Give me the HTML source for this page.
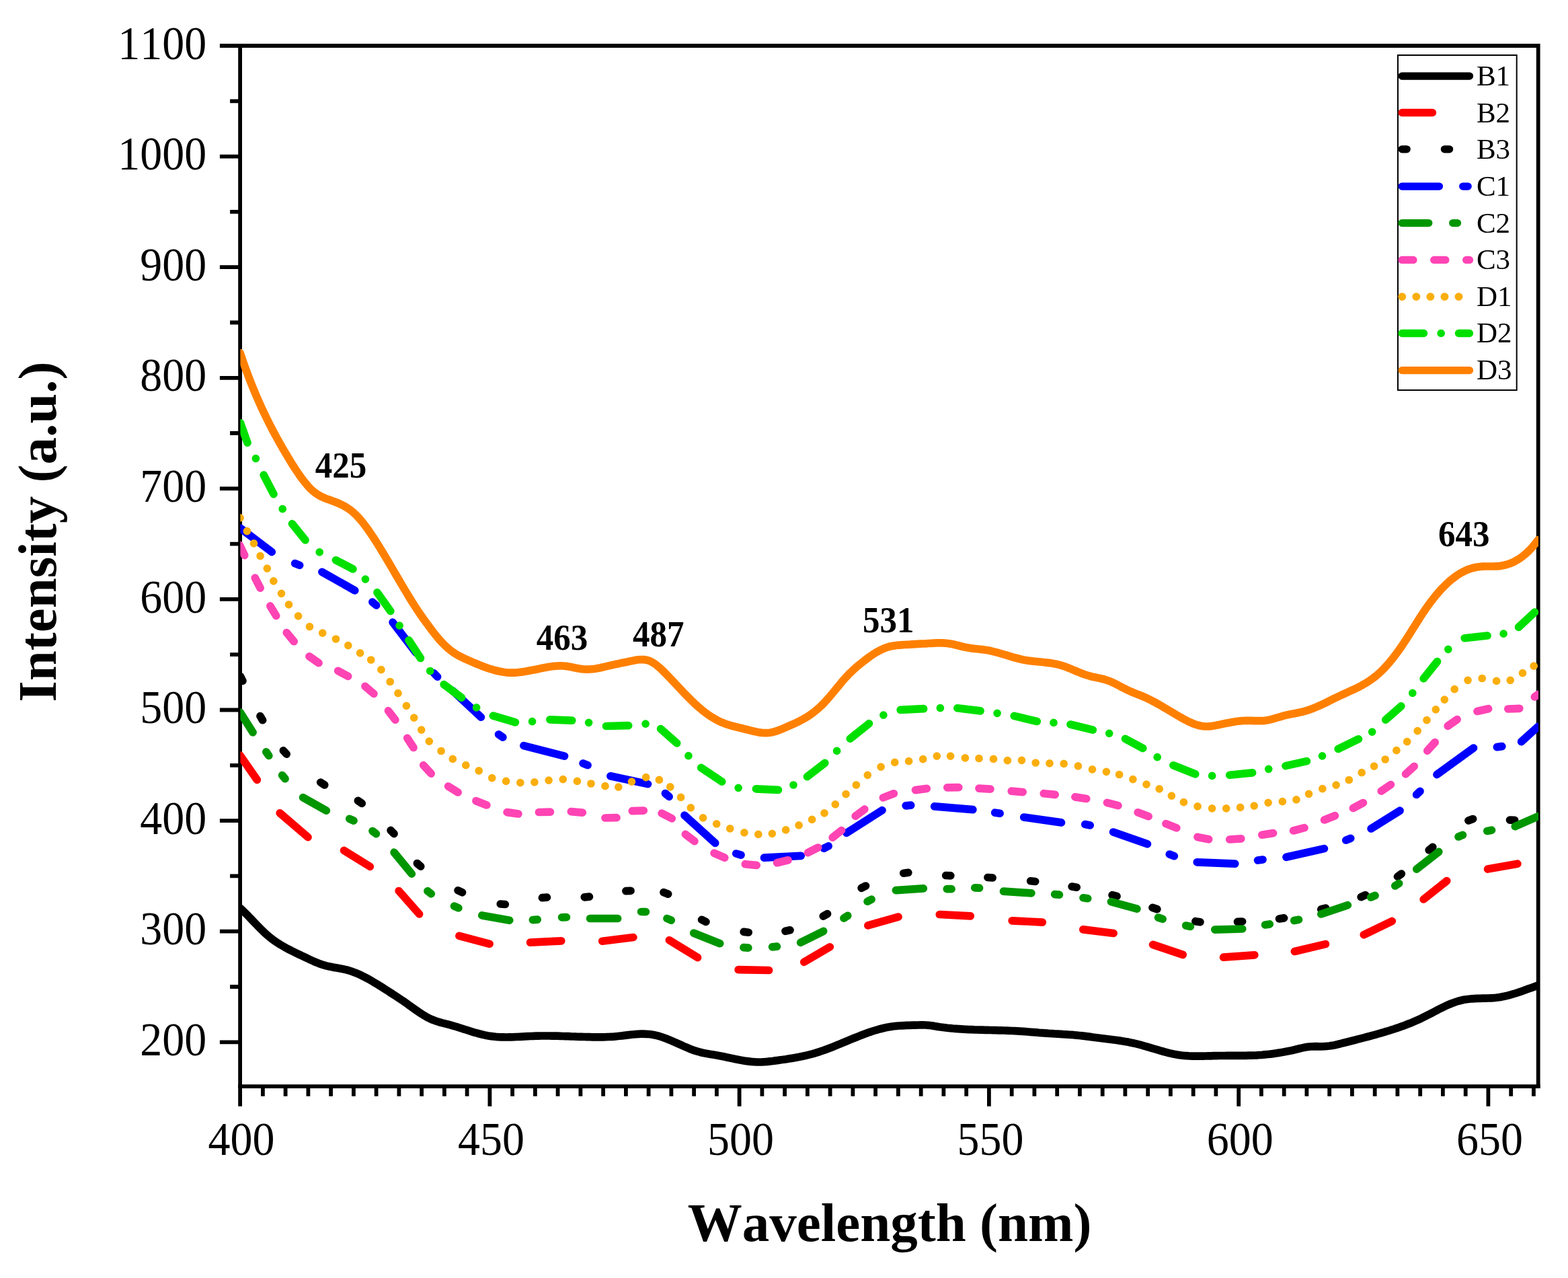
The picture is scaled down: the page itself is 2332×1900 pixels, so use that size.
<!DOCTYPE html>
<html lang="en"><head><meta charset="utf-8"><title>Intensity vs Wavelength</title>
<style>html,body{margin:0;padding:0;background:#fff}body{width:2332px;height:1900px;overflow:hidden}svg{display:block}text{font-kerning:none;font-family:"Liberation Serif","Times New Roman",serif;fill:#000}.tk{font-size:66px}.ax{font-size:81px;font-weight:bold}.lg{font-size:43px}.an{font-size:51px;font-weight:bold}.c{fill:none;stroke-width:11.7;stroke-linecap:round;stroke-linejoin:round}</style></head><body>
<svg width="2332" height="1900" viewBox="0 0 2332 1900">
<rect width="2332" height="1900" fill="#fff"/>
<defs><clipPath id="pc"><rect x="357.4" y="68.0" width="1930.6" height="1547.1"/></clipPath></defs>
<g stroke="#000" stroke-width="5.80" fill="none" stroke-linecap="butt">
<path d="M326.9 68.0 H2287.7 V1618.0"/>
<path d="M357.1 68.0 V1644.8"/>
<path d="M354.2 1615.1 H2290.6"/>
<path d="M326.9 1549.3 H357.1 M326.9 1384.7 H357.1 M326.9 1220.1 H357.1 M326.9 1055.5 H357.1 M326.9 890.9 H357.1 M326.9 726.3 H357.1 M326.9 561.8 H357.1 M326.9 397.2 H357.1 M326.9 232.6 H357.1 M342.1 1467.0 H357.1 M342.1 1302.4 H357.1 M342.1 1137.8 H357.1 M342.1 973.2 H357.1 M342.1 808.6 H357.1 M342.1 644.0 H357.1 M342.1 479.5 H357.1 M342.1 314.9 H357.1 M342.1 150.3 H357.1 M728.4 1615.1 V1644.8 M1099.6 1615.1 V1644.8 M1470.9 1615.1 V1644.8 M1842.2 1615.1 V1644.8 M2213.4 1615.1 V1644.8 M390.9 1615.1 V1629.7 M424.6 1615.1 V1629.7 M458.4 1615.1 V1629.7 M492.1 1615.1 V1629.7 M525.9 1615.1 V1629.7 M559.6 1615.1 V1629.7 M593.4 1615.1 V1629.7 M627.1 1615.1 V1629.7 M660.9 1615.1 V1629.7 M694.6 1615.1 V1629.7 M762.1 1615.1 V1629.7 M795.9 1615.1 V1629.7 M829.6 1615.1 V1629.7 M863.4 1615.1 V1629.7 M897.1 1615.1 V1629.7 M930.9 1615.1 V1629.7 M964.6 1615.1 V1629.7 M998.4 1615.1 V1629.7 M1032.1 1615.1 V1629.7 M1065.9 1615.1 V1629.7 M1133.4 1615.1 V1629.7 M1167.1 1615.1 V1629.7 M1200.9 1615.1 V1629.7 M1234.6 1615.1 V1629.7 M1268.4 1615.1 V1629.7 M1302.1 1615.1 V1629.7 M1335.9 1615.1 V1629.7 M1369.7 1615.1 V1629.7 M1403.4 1615.1 V1629.7 M1437.2 1615.1 V1629.7 M1504.7 1615.1 V1629.7 M1538.4 1615.1 V1629.7 M1572.2 1615.1 V1629.7 M1605.9 1615.1 V1629.7 M1639.7 1615.1 V1629.7 M1673.4 1615.1 V1629.7 M1707.2 1615.1 V1629.7 M1740.9 1615.1 V1629.7 M1774.7 1615.1 V1629.7 M1808.4 1615.1 V1629.7 M1875.9 1615.1 V1629.7 M1909.7 1615.1 V1629.7 M1943.4 1615.1 V1629.7 M1977.2 1615.1 V1629.7 M2010.9 1615.1 V1629.7 M2044.7 1615.1 V1629.7 M2078.4 1615.1 V1629.7 M2112.2 1615.1 V1629.7 M2145.9 1615.1 V1629.7 M2179.7 1615.1 V1629.7 M2247.2 1615.1 V1629.7 M2280.9 1615.1 V1629.7"/>
</g>
<g id="curves" clip-path="url(#pc)">
<path id="B1" class="c" stroke="#000000" d="M357.1 1350L361.1 1353.8L365.1 1357.7L369.1 1361.7L373.1 1365.9L377.1 1370.1L381.1 1374.3L385.1 1378.4L389.1 1382.4L393.1 1386.3L397.1 1389.9L401.1 1393.2L405.1 1396.4L409.1 1399.3L413.1 1402L417.1 1404.5L421.1 1406.8L425.1 1409.1L429.1 1411.2L433.1 1413.3L437.1 1415.2L441.1 1417.2L445.1 1419.1L449.1 1421L453.1 1422.9L457.1 1424.8L461.1 1426.7L465.1 1428.5L469.1 1430.3L473.1 1431.9L477.1 1433.4L481.1 1434.7L485.1 1435.9L489.1 1436.8L493.1 1437.6L497.1 1438.4L501.1 1439L505.1 1439.8L509.1 1440.5L513.1 1441.4L517.1 1442.3L521.1 1443.5L525.1 1444.9L529.1 1446.4L533.1 1448.1L537.1 1449.9L541.1 1451.9L545.1 1454L549.1 1456.2L553.1 1458.5L557.1 1460.9L561.1 1463.3L565.1 1465.8L569.1 1468.3L573.1 1470.9L577.1 1473.4L581.1 1476L585.1 1478.6L589.1 1481.2L593.1 1483.8L597.1 1486.5L601.1 1489.2L605.1 1492L609.1 1494.9L613.1 1497.8L617.1 1500.6L621.1 1503.4L625.1 1506.1L629.1 1508.7L633.1 1511.1L637.1 1513.3L641.1 1515.2L645.1 1516.8L649.1 1518.2L653.1 1519.5L657.1 1520.6L661.1 1521.6L665.1 1522.6L669.1 1523.7L673.1 1524.8L677.1 1526L681.1 1527.2L685.1 1528.5L689.1 1529.8L693.1 1531L697.1 1532.3L701.1 1533.6L705.1 1534.8L709.1 1535.9L713.1 1537L717.1 1538L721.1 1538.9L725.1 1539.7L729.1 1540.4L733.1 1540.9L737.1 1541.3L741.1 1541.6L745.1 1541.8L749.1 1541.9L753.1 1542L757.1 1541.9L761.1 1541.8L765.1 1541.7L769.1 1541.5L773.1 1541.3L777.1 1541.1L781.1 1540.9L785.1 1540.7L789.1 1540.5L793.1 1540.3L797.1 1540.2L801.1 1540.1L805.1 1540L809.1 1540L813.1 1540L817.1 1540L821.1 1540.1L825.1 1540.1L829.1 1540.2L833.1 1540.3L837.1 1540.5L841.1 1540.6L845.1 1540.7L849.1 1540.9L853.1 1541L857.1 1541.2L861.1 1541.3L865.1 1541.4L869.1 1541.5L873.1 1541.6L877.1 1541.7L881.1 1541.8L885.1 1541.8L889.1 1541.8L893.1 1541.8L897.1 1541.8L901.1 1541.7L905.1 1541.5L909.1 1541.3L913.1 1541.1L917.1 1540.7L921.1 1540.3L925.1 1539.9L929.1 1539.4L933.1 1538.9L937.1 1538.4L941.1 1538L945.1 1537.7L949.1 1537.4L953.1 1537.2L957.1 1537.2L961.1 1537.3L965.1 1537.5L969.1 1538L973.1 1538.7L977.1 1539.6L981.1 1540.7L985.1 1542L989.1 1543.4L993.1 1545L997.1 1546.6L1001.1 1548.3L1005.1 1550.1L1009.1 1551.9L1013.1 1553.7L1017.1 1555.5L1021.1 1557.2L1025.1 1558.9L1029.1 1560.4L1033.1 1561.9L1037.1 1563.1L1041.1 1564.2L1045.1 1565.2L1049.1 1566L1053.1 1566.7L1057.1 1567.4L1061.1 1568.1L1065.1 1568.8L1069.1 1569.5L1073.1 1570.3L1077.1 1571.1L1081.1 1571.9L1085.1 1572.7L1089.1 1573.6L1093.1 1574.4L1097.1 1575.2L1101.1 1576L1105.1 1576.7L1109.1 1577.4L1113.1 1577.9L1117.1 1578.4L1121.1 1578.7L1125.1 1578.9L1129.1 1579L1133.1 1578.9L1137.1 1578.7L1141.1 1578.4L1145.1 1577.9L1149.1 1577.5L1153.1 1576.9L1157.1 1576.4L1161.1 1575.8L1165.1 1575.3L1169.1 1574.7L1173.1 1574L1177.1 1573.4L1181.1 1572.7L1185.1 1572L1189.1 1571.3L1193.1 1570.4L1197.1 1569.6L1201.1 1568.6L1205.1 1567.6L1209.1 1566.6L1213.1 1565.4L1217.1 1564.2L1221.1 1562.8L1225.1 1561.5L1229.1 1560L1233.1 1558.5L1237.1 1557L1241.1 1555.4L1245.1 1553.7L1249.1 1552.1L1253.1 1550.4L1257.1 1548.8L1261.1 1547.1L1265.1 1545.4L1269.1 1543.8L1273.1 1542.2L1277.1 1540.6L1281.1 1539L1285.1 1537.5L1289.1 1536L1293.1 1534.6L1297.1 1533.3L1301.1 1532L1305.1 1530.8L1309.1 1529.7L1313.1 1528.7L1317.1 1527.8L1321.1 1527L1325.1 1526.4L1329.1 1525.8L1333.1 1525.4L1337.1 1525L1341.1 1524.8L1345.1 1524.6L1349.1 1524.4L1353.1 1524.3L1357.1 1524.2L1361.1 1524.1L1365.1 1524L1369.1 1523.9L1373.1 1523.9L1377.1 1524L1381.1 1524.3L1385.1 1524.8L1389.1 1525.4L1393.1 1526.1L1397.1 1526.7L1401.1 1527.2L1405.1 1527.7L1409.1 1528.2L1413.1 1528.6L1417.1 1529L1421.1 1529.3L1425.1 1529.6L1429.1 1529.9L1433.1 1530.2L1437.1 1530.4L1441.1 1530.6L1445.1 1530.7L1449.1 1530.9L1453.1 1531L1457.1 1531.1L1461.1 1531.2L1465.1 1531.3L1469.1 1531.4L1473.1 1531.5L1477.1 1531.6L1481.1 1531.7L1485.1 1531.8L1489.1 1531.9L1493.1 1532L1497.1 1532.1L1501.1 1532.3L1505.1 1532.5L1509.1 1532.7L1513.1 1532.9L1517.1 1533.1L1521.1 1533.4L1525.1 1533.7L1529.1 1534L1533.1 1534.3L1537.1 1534.6L1541.1 1534.9L1545.1 1535.3L1549.1 1535.6L1553.1 1535.9L1557.1 1536.2L1561.1 1536.5L1565.1 1536.7L1569.1 1537L1573.1 1537.2L1577.1 1537.4L1581.1 1537.7L1585.1 1537.9L1589.1 1538.2L1593.1 1538.4L1597.1 1538.7L1601.1 1539.1L1605.1 1539.5L1609.1 1539.9L1613.1 1540.4L1617.1 1540.9L1621.1 1541.4L1625.1 1542L1629.1 1542.5L1633.1 1543L1637.1 1543.5L1641.1 1544L1645.1 1544.5L1649.1 1545L1653.1 1545.5L1657.1 1546L1661.1 1546.5L1665.1 1547.1L1669.1 1547.7L1673.1 1548.4L1677.1 1549.1L1681.1 1549.9L1685.1 1550.7L1689.1 1551.6L1693.1 1552.6L1697.1 1553.7L1701.1 1554.8L1705.1 1556L1709.1 1557.1L1713.1 1558.3L1717.1 1559.5L1721.1 1560.7L1725.1 1561.9L1729.1 1563L1733.1 1564.1L1737.1 1565.2L1741.1 1566.1L1745.1 1567L1749.1 1567.7L1753.1 1568.4L1757.1 1569L1761.1 1569.4L1765.1 1569.7L1769.1 1570L1773.1 1570.1L1777.1 1570.2L1781.1 1570.2L1785.1 1570.2L1789.1 1570.1L1793.1 1570L1797.1 1569.9L1801.1 1569.8L1805.1 1569.7L1809.1 1569.6L1813.1 1569.5L1817.1 1569.5L1821.1 1569.5L1825.1 1569.4L1829.1 1569.4L1833.1 1569.4L1837.1 1569.4L1841.1 1569.4L1845.1 1569.4L1849.1 1569.4L1853.1 1569.3L1857.1 1569.2L1861.1 1569.1L1865.1 1569L1869.1 1568.8L1873.1 1568.5L1877.1 1568.3L1881.1 1567.9L1885.1 1567.5L1889.1 1567.1L1893.1 1566.6L1897.1 1566L1901.1 1565.4L1905.1 1564.8L1909.1 1564.1L1913.1 1563.3L1917.1 1562.5L1921.1 1561.7L1925.1 1560.8L1929.1 1559.8L1933.1 1558.8L1937.1 1557.9L1941.1 1557L1945.1 1556.4L1949.1 1556L1953.1 1555.8L1957.1 1555.7L1961.1 1555.8L1965.1 1555.8L1969.1 1555.7L1973.1 1555.4L1977.1 1555L1981.1 1554.4L1985.1 1553.7L1989.1 1552.8L1993.1 1551.8L1997.1 1550.7L2001.1 1549.7L2005.1 1548.7L2009.1 1547.7L2013.1 1546.7L2017.1 1545.7L2021.1 1544.6L2025.1 1543.6L2029.1 1542.6L2033.1 1541.5L2037.1 1540.5L2041.1 1539.4L2045.1 1538.3L2049.1 1537.2L2053.1 1536L2057.1 1534.9L2061.1 1533.7L2065.1 1532.5L2069.1 1531.2L2073.1 1530L2077.1 1528.6L2081.1 1527.3L2085.1 1525.8L2089.1 1524.4L2093.1 1522.8L2097.1 1521.3L2101.1 1519.6L2105.1 1517.9L2109.1 1516.1L2113.1 1514.3L2117.1 1512.3L2121.1 1510.3L2125.1 1508.3L2129.1 1506.2L2133.1 1504.1L2137.1 1502L2141.1 1499.9L2145.1 1497.9L2149.1 1496L2153.1 1494.2L2157.1 1492.5L2161.1 1490.9L2165.1 1489.5L2169.1 1488.2L2173.1 1487.2L2177.1 1486.3L2181.1 1485.7L2185.1 1485.2L2189.1 1484.8L2193.1 1484.6L2197.1 1484.4L2201.1 1484.3L2205.1 1484.2L2209.1 1484.1L2213.1 1484L2217.1 1483.8L2221.1 1483.6L2225.1 1483.2L2229.1 1482.7L2233.1 1482.1L2237.1 1481.3L2241.1 1480.4L2245.1 1479.3L2249.1 1478.2L2253.1 1477L2257.1 1475.7L2261.1 1474.4L2265.1 1473L2269.1 1471.6L2273.1 1470.1L2277.1 1468.7L2281.1 1467.2L2285.1 1465.8L2287.7 1464.9"/>
<path id="B2" class="c" stroke="#ff0000" d="M357.1 1123L382.3 1159.4M416.2 1208.8L458 1244.6M511.6 1264.4L550.3 1288.4M593.2 1324.5L623.6 1359M682.9 1391.4L728.1 1403.3M788.6 1401.2L834.8 1398.8M895.7 1399.2L941.9 1393.5M995.4 1397.8L1037.5 1423.6M1098.1 1441.6L1143.6 1442.5M1195.8 1430.3L1234.3 1407.8M1290.9 1375.9L1336 1363.2M1397.3 1359.5L1443.3 1361.8M1505.2 1368.8L1550.3 1371.1M1610.8 1381.9L1656.2 1387.5M1714.6 1404.4L1759.2 1419.4M1819.6 1423.2L1865.8 1419.8M1925.4 1414.5L1971.4 1403.6M2028.3 1389.7L2070.3 1369.4M2117.2 1337L2151.7 1309.6M2212.6 1292.1L2256.9 1284.2"/>
<path id="B3" class="c" stroke="#000000" d="M357.7 1005.9L360.9 1012.3M387 1064.6L390.6 1070.7M421.4 1115.9L426.2 1121.1M476.7 1163.1L482.7 1167M532.4 1190.4L538.2 1194.4M581.1 1234.4L586 1239.6M620.4 1283.5L625.7 1288.2M681.1 1323.8L687.5 1326.8M744.3 1344L751.3 1344.5M806.4 1334.7L813.4 1334.1M869.3 1333.8L876.4 1333.2M930.9 1324.7L938 1324.4M987 1326.6L993.6 1329.2M1043.6 1367.3L1049.9 1370.4M1106.2 1385.4L1113.2 1386.2M1168 1384.3L1175 1382.8M1224.3 1362.1L1230.5 1358.6M1281.2 1320.3L1287.5 1317M1343.8 1298.2L1350.8 1297.3M1406.7 1301.5L1413.8 1301.9M1469 1304.5L1476.1 1305M1532.7 1309.8L1539.7 1310.5M1594.2 1318L1601.2 1319.2M1654.1 1330.7L1661 1332.5M1714 1349.4L1720.8 1351.6M1777.9 1369.7L1784.9 1370.8M1840.5 1370.4L1847.6 1370.1M1902.6 1366L1909.6 1364.9M1964.8 1352L1971.6 1350.1M2024.2 1333.6L2030.7 1330.7M2078.5 1303.2L2084.3 1299.1M2125.2 1263.8L2130.8 1259.4M2183.9 1219.9L2190.6 1217.5M2245.5 1219.2L2252.6 1219.3"/>
<path id="C1" class="c" stroke="#0000ff" d="M357.1 785L404.3 820.6M438.7 837.6L445.6 840.4M478.9 850.3L527.7 877.9M553.9 895.1L559.6 899.9M584.1 925.2L618.7 970.4M645.4 1000.8L650.6 1006.2M673.1 1026.8L715.4 1066.2M741.6 1091.9L747.8 1096.1M778.9 1108.6L839.5 1124.1M867.1 1134.8L874 1137.7M907.9 1153.8L963.5 1165.6M989.4 1179.5L995.1 1184.4M1018 1212.2L1063.7 1253.4M1094.8 1269L1102 1271.1M1136.5 1275.1L1191.3 1272.3M1225.4 1261.3L1232.1 1257.9M1259 1238.4L1312 1204.6M1347.2 1197.8L1354.7 1197.2M1389.7 1198.9L1446.9 1203.7M1479.7 1208.2L1487.1 1209.3M1522.7 1215L1578.5 1222.9M1613.8 1225.6L1621.2 1227M1655.6 1237L1706.4 1254.8M1739.3 1270.1L1746.3 1272.7M1780.3 1281.9L1836.8 1284.1M1870.6 1279L1878 1278M1913 1274.3L1969.4 1261.6M2001.8 1249.2L2008.7 1246.3M2039.1 1232L2082 1205.2M2106.6 1181.5L2112 1176.3M2137 1151.6L2191.5 1112M2226.4 1110.6L2233.8 1109.6M2262.6 1102.7L2287.7 1080"/>
<path id="C2" class="c" stroke="#009600" d="M357.1 1059L376.1 1088.8M395.9 1117.9L399.8 1123.5M419.7 1152.5L424 1157.8M450.6 1185.6L485.3 1205.1M519.8 1217.3L526 1220.1M554 1235.5L559.4 1239.6M586.1 1267.2L612.3 1299.1M635.9 1324.7L641.3 1328.8M675.5 1347.2L681.8 1349.9M716.8 1360.9L757.7 1368.3M792.4 1367.6L799.2 1367.2M835.6 1363.8L842.4 1363.7M877.6 1365.5L918.6 1365.5M953.6 1355.5L960.4 1355.6M992 1365.5L998.2 1368.2M1031.8 1387.2L1070.7 1402.7M1106 1408.7L1112.8 1409.1M1148.6 1407.8L1155.4 1407.2M1190.7 1401.3L1224.6 1384.4M1255 1365.1L1260.7 1361.3M1290.1 1340.2L1296.1 1337.1M1332.4 1323.7L1373.3 1320.9M1408.3 1321.7L1415.1 1321.7M1449.8 1319.9L1456.5 1320.2M1492.5 1325.1L1533.9 1327.9M1568.7 1329.6L1575.4 1330.2M1611 1334.8L1617.7 1335.7M1652.5 1340.6L1690.9 1351.1M1722.6 1364.1L1729.1 1366.3M1763.7 1376L1770.4 1377.4M1806.8 1382.1L1847.7 1381M1881.6 1375L1888.3 1373.9M1924.8 1368.6L1931.5 1367.3M1964.8 1359L2004.3 1345.7M2038.7 1334L2045 1331.4M2074.8 1317L2080.6 1313.4M2106.8 1292.1L2139.8 1266.4M2169.1 1244L2175.4 1241.4M2211.8 1235.4L2218.5 1234.2M2253.3 1228.6L2287.7 1213.6"/>
<path id="C3" class="c" stroke="#ff44b4" d="M356.4 810.3L363.7 825.6M379.3 859.1L387.1 874.2M401.9 900.9L410.7 915.5M426.3 940.6L437.2 953.7M460 975.9L474 985.6M502.7 997.3L517.6 1005.4M543 1020.4L555.9 1031.4M577.5 1056.7L587.9 1070.2M605.7 1097.3L615 1111.5M629.7 1137.6L641.2 1150.1M666.6 1169L681.1 1178M708 1190.7L723.8 1197M754.1 1207.6L770.9 1210M801.4 1207.5L818.4 1207.2M849.4 1206.6L866.3 1208.1M900 1216L917 1215.7M940.3 1205.7L957.3 1205.1M984.2 1209.1L999.3 1216.9M1019.4 1240.4L1032.9 1250.6M1062.1 1268.3L1077.7 1275.2M1108.3 1284.7L1125.2 1286.4M1155.6 1282.7L1172.1 1278.8M1201.4 1267.7L1216.6 1260M1238.2 1245.1L1251.5 1234.5M1272.2 1213.3L1285.8 1203.1M1313.4 1185.9L1329.3 1179.8M1361.5 1174.6L1378.3 1172.4M1408.8 1170.8L1425.8 1170.6M1456 1172.1L1472.9 1173.2M1504.3 1176.2L1521.2 1177.6M1552.3 1179.7L1569.2 1181.4M1598.9 1184.9L1615.7 1187.5M1646.5 1193.3L1662.9 1197.7M1692.2 1207.8L1708.1 1213.7M1734 1224.6L1749.8 1230.9M1781 1244.4L1797.6 1247.8M1828.8 1248L1845.8 1246.9M1876.8 1241.2L1893.6 1238.6M1923.6 1235L1940 1230.7M1969.6 1219L1985.4 1212.7M2012.4 1201.5L2027.4 1193.5M2054.3 1176.1L2068.4 1166.5M2090.6 1150.8L2103.2 1139.3M2122.8 1116.1L2134.2 1103.5M2153.2 1079.4L2167.1 1069.6M2197 1057.5L2213.6 1053.7M2242.8 1054L2259.8 1053.3M2282.4 1036.1L2287.7 1032.3"/>
<path id="D1" class="c" stroke="#faae0e" d="M367.4 789.6h.01M377.5 807.9h.01M387.1 826.6h.01M397.3 845.2h.01M406.9 863.8h.01M418.5 882.3h.01M429.5 898.9h.01M443.6 915.8h.01M460.5 931.6h.01M479.7 941.2h.01M499.5 950h.01M517.8 959.6h.01M535.6 970.9h.01M551.7 981h.01M566.9 995.7h.01M580.2 1013.5h.01M592 1030.7h.01M604.4 1049.3h.01M615.7 1067.1h.01M626.7 1085.2h.01M638.3 1102.1h.01M656.1 1116.5h.01M673.3 1128.4h.01M692.8 1137.7h.01M712.2 1145.9h.01M731.7 1156.6h.01M752.6 1161.4h.01M773.8 1163.6h.01M794.9 1162.8h.01M816.1 1160.2h.01M837.3 1158.6h.01M858.4 1161.4h.01M879 1165h.01M900 1168.7h.01M919.8 1170.1h.01M939.5 1162.2h.01M960.7 1155.7h.01M980.4 1159.4h.01M996.8 1169.8h.01M1012.6 1185.4h.01M1027.3 1200.9h.01M1045.6 1215.8h.01M1065.7 1224.9h.01M1085.7 1231.9h.01M1106.9 1237.9h.01M1127.8 1240.4h.01M1148.4 1239.3h.01M1168.7 1233.9h.01M1188.1 1226.8h.01M1207.6 1218.4h.01M1226 1208.8h.01M1242.3 1195.8h.01M1258.1 1180.6h.01M1273.4 1167h.01M1290.3 1152.3h.01M1310.1 1140.2h.01M1330.7 1133.4h.01M1351.6 1131.7h.01M1372.7 1128.6h.01M1393.3 1124.1h.01M1413.6 1124.1h.01M1435.4 1126.9h.01M1456 1127.5h.01M1477.5 1128.4h.01M1498.4 1130.6h.01M1519.5 1130.3h.01M1540.2 1134h.01M1561 1134.8h.01M1582.2 1135.4h.01M1603.4 1138.8h.01M1624.5 1143.9h.01M1645.4 1147.3h.01M1664.6 1151.5h.01M1684.9 1158.6h.01M1705 1166.2h.01M1724.2 1172.9h.01M1742.4 1183.1h.01M1760.5 1192.7h.01M1781.1 1198.9h.01M1802.6 1201.8h.01M1823.7 1201.8h.01M1844.6 1200.4h.01M1865.2 1198.1h.01M1886.1 1193.3h.01M1907.3 1191.6h.01M1927.9 1188.8h.01M1946.5 1180.3h.01M1966.8 1172.7h.01M1987.1 1167.1h.01M2006.3 1159.5h.01M2025.2 1148.7h.01M2043.6 1139.1h.01M2060.2 1129h.01M2076.9 1115.7h.01M2092.7 1102.7h.01M2108.2 1086.6h.01M2122 1070.6h.01M2135.3 1054.8h.01M2148.3 1040.1h.01M2163.2 1024.6h.01M2183 1011.3h.01M2204.2 1008.5h.01M2225.6 1012.4h.01M2246.2 1011.3h.01M2264.5 1000.6h.01M2281.2 990.1h.01M357.1 769.9h.01"/>
<path id="D2" class="c" stroke="#00e000" d="M357.5 628.8L368 658.3M380.4 681.6h.01M392.2 706.2L407 734.6M420.2 756.7h.01M434.5 778.7L454 802.9M475.2 820.9h.01M499.5 832.8L524.9 846M543.4 861.1h.01M561 880.8L580.8 908.6M594.1 930.2h.01M608 951.8L625.4 978.5M639.7 997.5h.01M660.2 1017.6L686.5 1037.3M708.6 1051.9h.01M733.4 1064.1L766.3 1073.9M791.6 1072.6h.01M817.9 1069.8L850.8 1071.1M875.6 1074.3h.01M901.5 1079.5L934.7 1078.7M960.1 1076.2h.01M982.6 1083.6L1006.7 1104.8M1023.9 1123.6h.01M1042.7 1141.4L1073.7 1162.1M1098.1 1171.3h.01M1124.4 1172.9L1157.4 1174.4M1180 1167h.01M1200.5 1154.6L1226.8 1134.3M1244.6 1116.4h.01M1264.3 1098.2L1292.5 1075.7M1313.9 1063.1h.01M1339.2 1055.4L1373.6 1053.7M1398.4 1052.6h.01M1423.9 1052.8L1458.1 1056.9M1483.1 1060.3h.01M1508.3 1064.4L1542.3 1072.5M1567 1074.4h.01M1592 1077L1625.3 1085.1M1649.7 1090.3h.01M1673.5 1098.4L1699.8 1112.5M1721.2 1125.6h.01M1744.9 1137.8L1777.7 1150.8M1802.7 1153.4h.01M1828.8 1152.3L1862.6 1148.9M1886.7 1143.3h.01M1912 1138.6L1943.4 1131.6M1966.5 1123.9h.01M1990.2 1113.5L2020.4 1098.8M2040.7 1088.1h.01M2060.8 1070.2L2083.8 1049.8M2100.8 1030.4h.01M2117.2 1008.8L2137.5 983.5M2153.8 965.3h.01M2178.2 948.7L2212 945M2236.1 942.2h.01M2258.6 932.4L2282.4 910.2"/>
<path id="D3" class="c" stroke="#ff8000" d="M357.1 524.6L361.1 536.4L365.1 547.6L369.1 558.4L373.1 568.8L377.1 578.7L381.1 588.2L385.1 597.4L389.1 606.3L393.1 614.8L397.1 623L401.1 631L405.1 638.7L409.1 646.2L413.1 653.5L417.1 660.6L421.1 667.6L425.1 674.4L429.1 681.1L433.1 687.7L437.1 694L441.1 700.1L445.1 706L449.1 711.6L453.1 716.8L457.1 721.6L461.1 726L465.1 729.7L469.1 732.9L473.1 735.6L477.1 737.9L481.1 739.8L485.1 741.4L489.1 742.8L493.1 744.3L497.1 745.7L501.1 747.3L505.1 749L509.1 750.9L513.1 753L517.1 755.5L521.1 758.3L525.1 761.5L529.1 765.2L533.1 769.3L537.1 773.9L541.1 778.9L545.1 784.2L549.1 789.9L553.1 795.7L557.1 801.8L561.1 808.1L565.1 814.5L569.1 821.1L573.1 827.7L577.1 834.5L581.1 841.3L585.1 848.1L589.1 855L593.1 861.8L597.1 868.6L601.1 875.4L605.1 882L609.1 888.6L613.1 895.1L617.1 901.3L621.1 907.5L625.1 913.4L629.1 919.1L633.1 924.7L637.1 930.1L641.1 935.5L645.1 940.7L649.1 945.7L653.1 950.5L657.1 954.9L661.1 959L665.1 962.7L669.1 966.1L673.1 969.1L677.1 971.8L681.1 974.2L685.1 976.3L689.1 978.3L693.1 980.2L697.1 981.9L701.1 983.6L705.1 985.3L709.1 987L713.1 988.6L717.1 990.2L721.1 991.7L725.1 993.2L729.1 994.5L733.1 995.7L737.1 996.8L741.1 997.8L745.1 998.6L749.1 999.3L753.1 999.8L757.1 1000.1L761.1 1000.2L765.1 1000.1L769.1 999.8L773.1 999.4L777.1 998.9L781.1 998.3L785.1 997.6L789.1 996.8L793.1 996L797.1 995.2L801.1 994.4L805.1 993.5L809.1 992.7L813.1 992L817.1 991.3L821.1 990.8L825.1 990.3L829.1 990L833.1 989.9L837.1 990L841.1 990.3L845.1 990.9L849.1 991.6L853.1 992.4L857.1 993.2L861.1 994L865.1 994.6L869.1 995L873.1 995.1L877.1 995L881.1 994.7L885.1 994.2L889.1 993.5L893.1 992.7L897.1 991.8L901.1 990.9L905.1 989.9L909.1 989L913.1 988.1L917.1 987.2L921.1 986.4L925.1 985.5L929.1 984.7L933.1 983.9L937.1 983.1L941.1 982.2L945.1 981.4L949.1 980.8L953.1 980.5L957.1 980.6L961.1 981.1L965.1 982.2L969.1 984L973.1 986.4L977.1 989.4L981.1 992.7L985.1 996.5L989.1 1000.5L993.1 1004.6L997.1 1008.8L1001.1 1013.1L1005.1 1017.3L1009.1 1021.6L1013.1 1025.8L1017.1 1030L1021.1 1034.1L1025.1 1038.1L1029.1 1042.1L1033.1 1045.9L1037.1 1049.6L1041.1 1053.1L1045.1 1056.4L1049.1 1059.5L1053.1 1062.5L1057.1 1065.2L1061.1 1067.6L1065.1 1069.9L1069.1 1072L1073.1 1073.8L1077.1 1075.4L1081.1 1076.9L1085.1 1078.1L1089.1 1079.3L1093.1 1080.3L1097.1 1081.3L1101.1 1082.2L1105.1 1083.2L1109.1 1084.2L1113.1 1085.2L1117.1 1086.3L1121.1 1087.3L1125.1 1088.1L1129.1 1088.9L1133.1 1089.4L1137.1 1089.6L1141.1 1089.6L1145.1 1089.2L1149.1 1088.5L1153.1 1087.4L1157.1 1086.1L1161.1 1084.6L1165.1 1082.9L1169.1 1081.2L1173.1 1079.4L1177.1 1077.6L1181.1 1075.8L1185.1 1074L1189.1 1072L1193.1 1069.9L1197.1 1067.7L1201.1 1065.3L1205.1 1062.6L1209.1 1059.7L1213.1 1056.5L1217.1 1053.1L1221.1 1049.5L1225.1 1045.5L1229.1 1041.2L1233.1 1036.7L1237.1 1032L1241.1 1027.1L1245.1 1022.2L1249.1 1017.4L1253.1 1012.6L1257.1 1008L1261.1 1003.7L1265.1 999.7L1269.1 995.9L1273.1 992.3L1277.1 988.9L1281.1 985.7L1285.1 982.5L1289.1 979.5L1293.1 976.5L1297.1 973.7L1301.1 971.1L1305.1 968.7L1309.1 966.6L1313.1 964.7L1317.1 963.1L1321.1 961.8L1325.1 960.8L1329.1 960.1L1333.1 959.5L1337.1 959.1L1341.1 958.8L1345.1 958.5L1349.1 958.3L1353.1 958.1L1357.1 957.8L1361.1 957.6L1365.1 957.4L1369.1 957.2L1373.1 957L1377.1 956.8L1381.1 956.5L1385.1 956.3L1389.1 956.1L1393.1 955.9L1397.1 955.8L1401.1 955.9L1405.1 956.1L1409.1 956.5L1413.1 957.1L1417.1 957.8L1421.1 958.8L1425.1 959.8L1429.1 960.8L1433.1 961.8L1437.1 962.6L1441.1 963.3L1445.1 963.9L1449.1 964.4L1453.1 964.8L1457.1 965.2L1461.1 965.6L1465.1 966.2L1469.1 966.8L1473.1 967.6L1477.1 968.6L1481.1 969.6L1485.1 970.7L1489.1 971.8L1493.1 973L1497.1 974.2L1501.1 975.4L1505.1 976.6L1509.1 977.8L1513.1 978.8L1517.1 979.8L1521.1 980.7L1525.1 981.5L1529.1 982.1L1533.1 982.6L1537.1 983.1L1541.1 983.5L1545.1 983.9L1549.1 984.3L1553.1 984.7L1557.1 985.1L1561.1 985.6L1565.1 986.3L1569.1 987L1573.1 987.8L1577.1 988.9L1581.1 990.1L1585.1 991.5L1589.1 993L1593.1 994.6L1597.1 996.3L1601.1 998L1605.1 999.6L1609.1 1001.2L1613.1 1002.7L1617.1 1004L1621.1 1005.2L1625.1 1006.2L1629.1 1007L1633.1 1007.9L1637.1 1008.8L1641.1 1009.7L1645.1 1010.9L1649.1 1012.3L1653.1 1013.9L1657.1 1015.8L1661.1 1017.8L1665.1 1019.9L1669.1 1022L1673.1 1024L1677.1 1026L1681.1 1027.8L1685.1 1029.5L1689.1 1031.1L1693.1 1032.7L1697.1 1034.3L1701.1 1036L1705.1 1037.7L1709.1 1039.6L1713.1 1041.7L1717.1 1043.8L1721.1 1046L1725.1 1048.3L1729.1 1050.6L1733.1 1053L1737.1 1055.3L1741.1 1057.7L1745.1 1060.1L1749.1 1062.5L1753.1 1064.8L1757.1 1067.1L1761.1 1069.3L1765.1 1071.4L1769.1 1073.4L1773.1 1075.2L1777.1 1076.7L1781.1 1078L1785.1 1079L1789.1 1079.7L1793.1 1080L1797.1 1079.9L1801.1 1079.6L1805.1 1079L1809.1 1078.3L1813.1 1077.5L1817.1 1076.6L1821.1 1075.8L1825.1 1074.9L1829.1 1074.2L1833.1 1073.5L1837.1 1072.8L1841.1 1072.3L1845.1 1071.9L1849.1 1071.5L1853.1 1071.4L1857.1 1071.3L1861.1 1071.4L1865.1 1071.6L1869.1 1071.7L1873.1 1071.7L1877.1 1071.6L1881.1 1071.3L1885.1 1070.8L1889.1 1069.9L1893.1 1068.9L1897.1 1067.7L1901.1 1066.5L1905.1 1065.3L1909.1 1064.1L1913.1 1063.1L1917.1 1062.2L1921.1 1061.4L1925.1 1060.7L1929.1 1059.9L1933.1 1059.1L1937.1 1058.2L1941.1 1057.1L1945.1 1055.9L1949.1 1054.5L1953.1 1053L1957.1 1051.4L1961.1 1049.7L1965.1 1047.9L1969.1 1046L1973.1 1044.1L1977.1 1042.1L1981.1 1040.1L1985.1 1038.1L1989.1 1036.2L1993.1 1034.3L1997.1 1032.4L2001.1 1030.6L2005.1 1028.7L2009.1 1026.9L2013.1 1025.1L2017.1 1023.2L2021.1 1021.2L2025.1 1019.1L2029.1 1016.8L2033.1 1014.4L2037.1 1011.8L2041.1 1009L2045.1 1006L2049.1 1002.6L2053.1 999L2057.1 995.1L2061.1 990.9L2065.1 986.4L2069.1 981.6L2073.1 976.6L2077.1 971.3L2081.1 965.8L2085.1 960.1L2089.1 954.1L2093.1 947.9L2097.1 941.6L2101.1 935.2L2105.1 928.8L2109.1 922.5L2113.1 916.2L2117.1 910.1L2121.1 904.3L2125.1 898.7L2129.1 893.3L2133.1 888.2L2137.1 883.3L2141.1 878.7L2145.1 874.3L2149.1 870.3L2153.1 866.5L2157.1 862.9L2161.1 859.7L2165.1 856.7L2169.1 854L2173.1 851.6L2177.1 849.5L2181.1 847.6L2185.1 846.1L2189.1 844.8L2193.1 843.8L2197.1 843L2201.1 842.5L2205.1 842.1L2209.1 842L2213.1 842L2217.1 842L2221.1 842L2225.1 841.8L2229.1 841.6L2233.1 841.1L2237.1 840.3L2241.1 839.3L2245.1 838L2249.1 836.4L2253.1 834.4L2257.1 832.2L2261.1 829.6L2265.1 826.6L2269.1 823.3L2273.1 819.6L2277.1 815.5L2281.1 810.9L2285.1 805.9L2287.7 802.5"/>
</g>
<g class="tk" text-anchor="end">
<text transform="translate(307.2 1568.9) scale(1 1.045)">200</text>
<text transform="translate(307.2 1404.3) scale(1 1.045)">300</text>
<text transform="translate(307.2 1239.7) scale(1 1.045)">400</text>
<text transform="translate(307.2 1075.1) scale(1 1.045)">500</text>
<text transform="translate(307.2 910.5) scale(1 1.045)">600</text>
<text transform="translate(307.2 745.9) scale(1 1.045)">700</text>
<text transform="translate(307.2 581.4) scale(1 1.045)">800</text>
<text transform="translate(307.2 416.8) scale(1 1.045)">900</text>
<text transform="translate(307.2 252.2) scale(1 1.045)">1000</text>
<text transform="translate(307.2 87.6) scale(1 1.045)">1100</text>
</g>
<g class="tk" text-anchor="middle">
<text transform="translate(359.1 1716.5) scale(1 1.045)">400</text>
<text transform="translate(730.4 1716.5) scale(1 1.045)">450</text>
<text transform="translate(1101.6 1716.5) scale(1 1.045)">500</text>
<text transform="translate(1472.9 1716.5) scale(1 1.045)">550</text>
<text transform="translate(1844.2 1716.5) scale(1 1.045)">600</text>
<text transform="translate(2215.4 1716.5) scale(1 1.045)">650</text>
</g>
<text class="ax" text-anchor="middle" x="1323.2" y="1844.8">Wavelength (nm)</text>
<text class="ax" text-anchor="middle" transform="translate(82.9 790.6) rotate(-90)">Intensity (a.u.)</text>
<text class="an" text-anchor="middle" transform="translate(507.1 710.3) scale(1 1.065)">425</text>
<text class="an" text-anchor="middle" transform="translate(836.1 966.3) scale(1 1.065)">463</text>
<text class="an" text-anchor="middle" transform="translate(979.2 961.4) scale(1 1.065)">487</text>
<text class="an" text-anchor="middle" transform="translate(1321.3 940.1) scale(1 1.065)">531</text>
<text class="an" text-anchor="middle" transform="translate(2177.3 811.5) scale(1 1.065)">643</text>
<rect x="2079" y="82" width="176.7" height="498" fill="#fff" stroke="#000" stroke-width="2"/>
<path d="M2085.1 113.1H2185.5" stroke="#000000" stroke-width="11.3" stroke-linecap="round" fill="none"/>
<path d="M2085.1 167.5H2130.5" stroke="#ff0000" stroke-width="11.3" stroke-linecap="round" fill="none"/>
<path d="M2085.1 221.8H2092.2M2148.4 221.8H2155.6" stroke="#000000" stroke-width="11.3" stroke-linecap="round" fill="none"/>
<path d="M2085.1 277.1H2140.5M2175.7 277.1H2183.2" stroke="#0000ff" stroke-width="11.3" stroke-linecap="round" fill="none"/>
<path d="M2085.1 331.6H2124.8M2160.7 331.6H2167.5" stroke="#009600" stroke-width="11.3" stroke-linecap="round" fill="none"/>
<path d="M2085.1 386.4H2102.0M2132.7 386.4H2149.9M2180.7 386.4H2185.5" stroke="#ff44b4" stroke-width="11.3" stroke-linecap="round" fill="none"/>
<path d="M2085.1 441.1H2085.4M2106.2 441.1H2106.5M2127.2 441.1H2127.5M2148.3 441.1H2148.6M2169.3 441.1H2169.6" stroke="#faae0e" stroke-width="11.7" stroke-linecap="round" fill="none"/>
<path d="M2085.1 495.5H2117.6M2143.0 495.5H2143.4M2169.4 495.5H2185.5" stroke="#00e000" stroke-width="11.3" stroke-linecap="round" fill="none"/>
<path d="M2085.1 550.6H2185.5" stroke="#ff8000" stroke-width="11.3" stroke-linecap="round" fill="none"/>
<g class="lg">
<text x="2195.9" y="126.9">B1</text>
<text x="2195.9" y="181.6">B2</text>
<text x="2195.9" y="236.2">B3</text>
<text x="2195.9" y="290.8">C1</text>
<text x="2195.9" y="345.5">C2</text>
<text x="2195.9" y="400.2">C3</text>
<text x="2195.9" y="454.8">D1</text>
<text x="2195.9" y="509.4">D2</text>
<text x="2195.9" y="564.1">D3</text>
</g>
</svg></body></html>
